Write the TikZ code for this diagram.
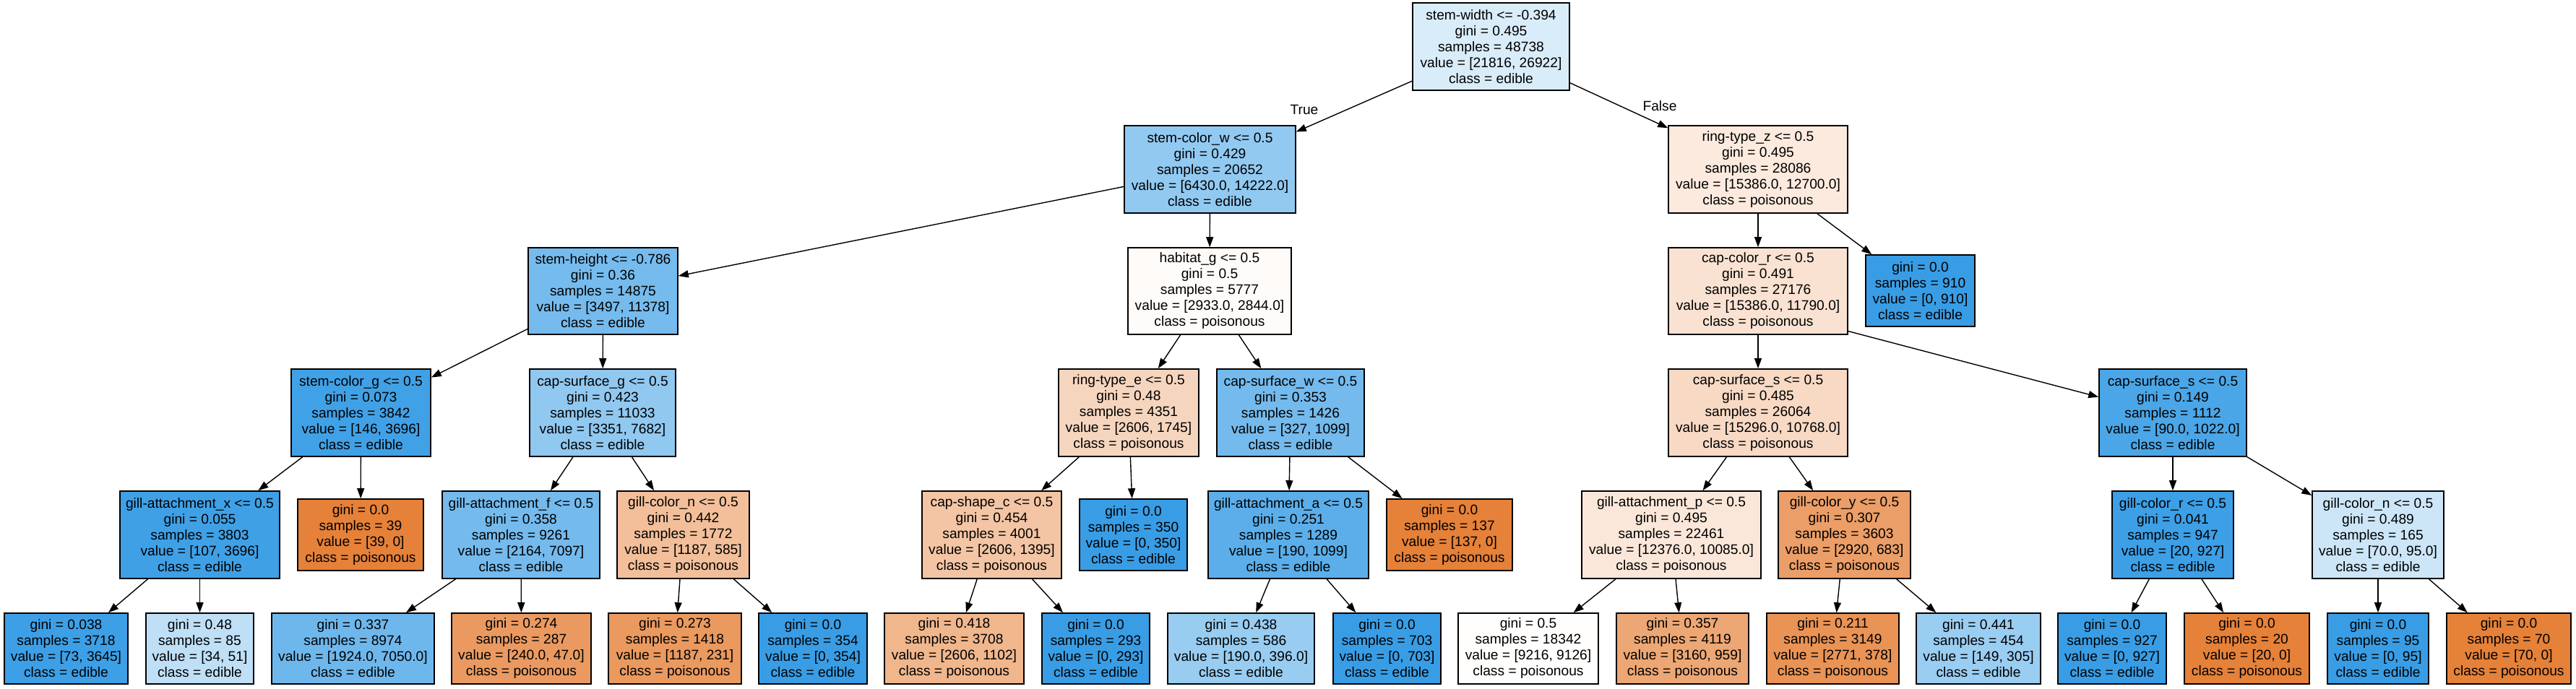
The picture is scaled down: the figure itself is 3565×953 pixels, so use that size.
\documentclass[tikz,border=0pt]{standalone}
\usepackage{fontspec}
\setmainfont{Liberation Sans}
\usetikzlibrary{arrows.meta}
\definecolor{ed}{RGB}{57,157,229}
\definecolor{po}{RGB}{229,129,57}
\begin{document}
\begin{tikzpicture}[x=0.5pt,y=-0.5pt,
  nd/.style={draw=black, line width=0.8pt, inner sep=0pt, align=center, font=\fontsize{9.6pt}{11pt}\selectfont},
  sz/.style 2 args={minimum width=#1*0.5pt, minimum height=#2*0.5pt},
  ar/.style={-{Triangle[length=7pt,width=5pt]}, line width=0.7pt, black},
  lb/.style={font=\fontsize{9.6pt}{11pt}\selectfont, inner sep=0pt}]
\useasboundingbox[fill=white] (0,0) rectangle (3565,953);
% level 0
\node[nd, sz={217}{121}, fill=ed!19!white] (n0) at (2063.5,64.5) {stem-width <= -0.394\\gini = 0.495\\samples = 48738\\value = [21816, 26922]\\class = edible};
% level 1
\node[nd, sz={237}{121}, fill=ed!55!white] (scw) at (1674.5,234.5) {stem-color\_w <= 0.5\\gini = 0.429\\samples = 20652\\value = [6430.0, 14222.0]\\class = edible};
\node[nd, sz={248}{121}, fill=po!17!white] (rtz) at (2433,234.5) {ring-type\_z <= 0.5\\gini = 0.495\\samples = 28086\\value = [15386.0, 12700.0]\\class = poisonous};
% level 2
\node[nd, sz={207}{120}, fill=ed!69!white] (sh) at (834.5,403) {stem-height <= -0.786\\gini = 0.36\\samples = 14875\\value = [3497, 11378]\\class = edible};
\node[nd, sz={226}{120}, fill=po!3!white] (hg) at (1674,403) {habitat\_g <= 0.5\\gini = 0.5\\samples = 5777\\value = [2933.0, 2844.0]\\class = poisonous};
\node[nd, sz={248}{120}, fill=po!23!white] (ccr) at (2433,403) {cap-color\_r <= 0.5\\gini = 0.491\\samples = 27176\\value = [15386.0, 11790.0]\\class = poisonous};
\node[nd, sz={151}{99}, fill=ed] (l910) at (2657.5,402.5) {gini = 0.0\\samples = 910\\value = [0, 910]\\class = edible};
% level 3
\node[nd, sz={193}{121}, fill=ed!96!white] (scg) at (499.5,571.5) {stem-color\_g <= 0.5\\gini = 0.073\\samples = 3842\\value = [146, 3696]\\class = edible};
\node[nd, sz={202}{121}, fill=ed!56!white] (csg) at (834,571.5) {cap-surface\_g <= 0.5\\gini = 0.423\\samples = 11033\\value = [3351, 7682]\\class = edible};
\node[nd, sz={194}{121}, fill=po!33!white] (rte) at (1562,571.5) {ring-type\_e <= 0.5\\gini = 0.48\\samples = 4351\\value = [2606, 1745]\\class = poisonous};
\node[nd, sz={204}{121}, fill=ed!70!white] (csw) at (1786,571.5) {cap-surface\_w <= 0.5\\gini = 0.353\\samples = 1426\\value = [327, 1099]\\class = edible};
\node[nd, sz={248}{121}, fill=po!30!white] (css1) at (2433,571.5) {cap-surface\_s <= 0.5\\gini = 0.485\\samples = 26064\\value = [15296.0, 10768.0]\\class = poisonous};
\node[nd, sz={204}{121}, fill=ed!91!white] (css2) at (3007,571.5) {cap-surface\_s <= 0.5\\gini = 0.149\\samples = 1112\\value = [90.0, 1022.0]\\class = edible};
% level 4
\node[nd, sz={221}{121}, fill=ed!97!white] (gax) at (276.5,740.5) {gill-attachment\_x <= 0.5\\gini = 0.055\\samples = 3803\\value = [107, 3696]\\class = edible};
\node[nd, sz={174}{99}, fill=po] (l39) at (499,740.5) {gini = 0.0\\samples = 39\\value = [39, 0]\\class = poisonous};
\node[nd, sz={218}{121}, fill=ed!70!white] (gaf) at (721,740.5) {gill-attachment\_f <= 0.5\\gini = 0.358\\samples = 9261\\value = [2164, 7097]\\class = edible};
\node[nd, sz={183}{121}, fill=po!51!white] (gcn1) at (945.5,740.5) {gill-color\_n <= 0.5\\gini = 0.442\\samples = 1772\\value = [1187, 585]\\class = poisonous};
\node[nd, sz={193}{121}, fill=po!46!white] (csc) at (1372.5,740.5) {cap-shape\_c <= 0.5\\gini = 0.454\\samples = 4001\\value = [2606, 1395]\\class = poisonous};
\node[nd, sz={149}{99}, fill=ed] (l350) at (1568.5,740.5) {gini = 0.0\\samples = 350\\value = [0, 350]\\class = edible};
\node[nd, sz={222}{121}, fill=ed!83!white] (gaa) at (1783,740.5) {gill-attachment\_a <= 0.5\\gini = 0.251\\samples = 1289\\value = [190, 1099]\\class = edible};
\node[nd, sz={174}{99}, fill=po] (l137) at (2006,740.5) {gini = 0.0\\samples = 137\\value = [137, 0]\\class = poisonous};
\node[nd, sz={248}{121}, fill=po!19!white] (gap) at (2313,740.5) {gill-attachment\_p <= 0.5\\gini = 0.495\\samples = 22461\\value = [12376.0, 10085.0]\\class = poisonous};
\node[nd, sz={183}{121}, fill=po!77!white] (gcy) at (2552.5,740.5) {gill-color\_y <= 0.5\\gini = 0.307\\samples = 3603\\value = [2920, 683]\\class = poisonous};
\node[nd, sz={168}{121}, fill=ed!98!white] (gcr) at (3007,740.5) {gill-color\_r <= 0.5\\gini = 0.041\\samples = 947\\value = [20, 927]\\class = edible};
\node[nd, sz={182}{121}, fill=ed!26!white] (gcn2) at (3291,740.5) {gill-color\_n <= 0.5\\gini = 0.489\\samples = 165\\value = [70.0, 95.0]\\class = edible};
% level 5
\node[nd, sz={171}{98}, fill=ed!98!white] (a1) at (91.5,898) {gini = 0.038\\samples = 3718\\value = [73, 3645]\\class = edible};
\node[nd, sz={149}{98}, fill=ed!33!white] (a2) at (276.5,898) {gini = 0.48\\samples = 85\\value = [34, 51]\\class = edible};
\node[nd, sz={225}{98}, fill=ed!73!white] (a3) at (488.5,898) {gini = 0.337\\samples = 8974\\value = [1924.0, 7050.0]\\class = edible};
\node[nd, sz={193}{98}, fill=po!80!white] (a4) at (721.5,898) {gini = 0.274\\samples = 287\\value = [240.0, 47.0]\\class = poisonous};
\node[nd, sz={184}{98}, fill=po!81!white] (a5) at (934,898) {gini = 0.273\\samples = 1418\\value = [1187, 231]\\class = poisonous};
\node[nd, sz={150}{98}, fill=ed] (a6) at (1125,898) {gini = 0.0\\samples = 354\\value = [0, 354]\\class = edible};
\node[nd, sz={193}{98}, fill=po!58!white] (a7) at (1320.5,898) {gini = 0.418\\samples = 3708\\value = [2606, 1102]\\class = poisonous};
\node[nd, sz={149}{98}, fill=ed] (a8) at (1516.5,898) {gini = 0.0\\samples = 293\\value = [0, 293]\\class = edible};
\node[nd, sz={203}{98}, fill=ed!52!white] (a9) at (1717.5,898) {gini = 0.438\\samples = 586\\value = [190.0, 396.0]\\class = edible};
\node[nd, sz={149}{98}, fill=ed] (a10) at (1919.5,898) {gini = 0.0\\samples = 703\\value = [0, 703]\\class = edible};
\node[nd, sz={194}{98}, fill=po!1!white] (a11) at (2115,898) {gini = 0.5\\samples = 18342\\value = [9216, 9126]\\class = poisonous};
\node[nd, sz={183}{98}, fill=po!70!white] (a12) at (2328.5,898) {gini = 0.357\\samples = 4119\\value = [3160, 959]\\class = poisonous};
\node[nd, sz={183}{98}, fill=po!86!white] (a13) at (2536.5,898) {gini = 0.211\\samples = 3149\\value = [2771, 378]\\class = poisonous};
\node[nd, sz={172}{98}, fill=ed!51!white] (a14) at (2738,898) {gini = 0.441\\samples = 454\\value = [149, 305]\\class = edible};
\node[nd, sz={150}{98}, fill=ed] (a15) at (2923,898) {gini = 0.0\\samples = 927\\value = [0, 927]\\class = edible};
\node[nd, sz={173}{98}, fill=po] (a16) at (3109.5,898) {gini = 0.0\\samples = 20\\value = [20, 0]\\class = poisonous};
\node[nd, sz={140}{98}, fill=ed] (a17) at (3291,898) {gini = 0.0\\samples = 95\\value = [0, 95]\\class = edible};
\node[nd, sz={172}{98}, fill=po] (a18) at (3472,898) {gini = 0.0\\samples = 70\\value = [70, 0]\\class = poisonous};
% labels
\node[lb] (tl) at (1805,152) {True};
\node[lb] (fl) at (2297,147) {False};
% edges
\draw[ar] (n0) -- (scw);
\draw[ar] (n0) -- (rtz);
\draw[ar] (scw) -- (sh);
\draw[ar] (scw) -- (hg);
\draw[ar] (sh) -- (scg);
\draw[ar] (sh) -- (csg);
\draw[ar] (scg) -- (gax);
\draw[ar] (scg) -- (l39);
\draw[ar] (gax) -- (a1);
\draw[ar] (gax) -- (a2);
\draw[ar] (csg) -- (gaf);
\draw[ar] (csg) -- (gcn1);
\draw[ar] (gaf) -- (a3);
\draw[ar] (gaf) -- (a4);
\draw[ar] (gcn1) -- (a5);
\draw[ar] (gcn1) -- (a6);
\draw[ar] (hg) -- (rte);
\draw[ar] (hg) -- (csw);
\draw[ar] (rte) -- (csc);
\draw[ar] (rte) -- (l350);
\draw[ar] (csc) -- (a7);
\draw[ar] (csc) -- (a8);
\draw[ar] (csw) -- (gaa);
\draw[ar] (csw) -- (l137);
\draw[ar] (gaa) -- (a9);
\draw[ar] (gaa) -- (a10);
\draw[ar] (rtz) -- (ccr);
\draw[ar] (rtz) -- (l910);
\draw[ar] (ccr) -- (css1);
\draw[ar] (ccr.-24.5) -- (css2.168);
\draw[ar] (css1) -- (gap);
\draw[ar] (css1) -- (gcy);
\draw[ar] (gap) -- (a11);
\draw[ar] (gap) -- (a12);
\draw[ar] (gcy) -- (a13);
\draw[ar] (gcy) -- (a14);
\draw[ar] (css2) -- (gcr);
\draw[ar] (css2) -- (gcn2);
\draw[ar] (gcr) -- (a15);
\draw[ar] (gcr) -- (a16);
\draw[ar] (gcn2) -- (a17);
\draw[ar] (gcn2) -- (a18);
\end{tikzpicture}
\end{document}
